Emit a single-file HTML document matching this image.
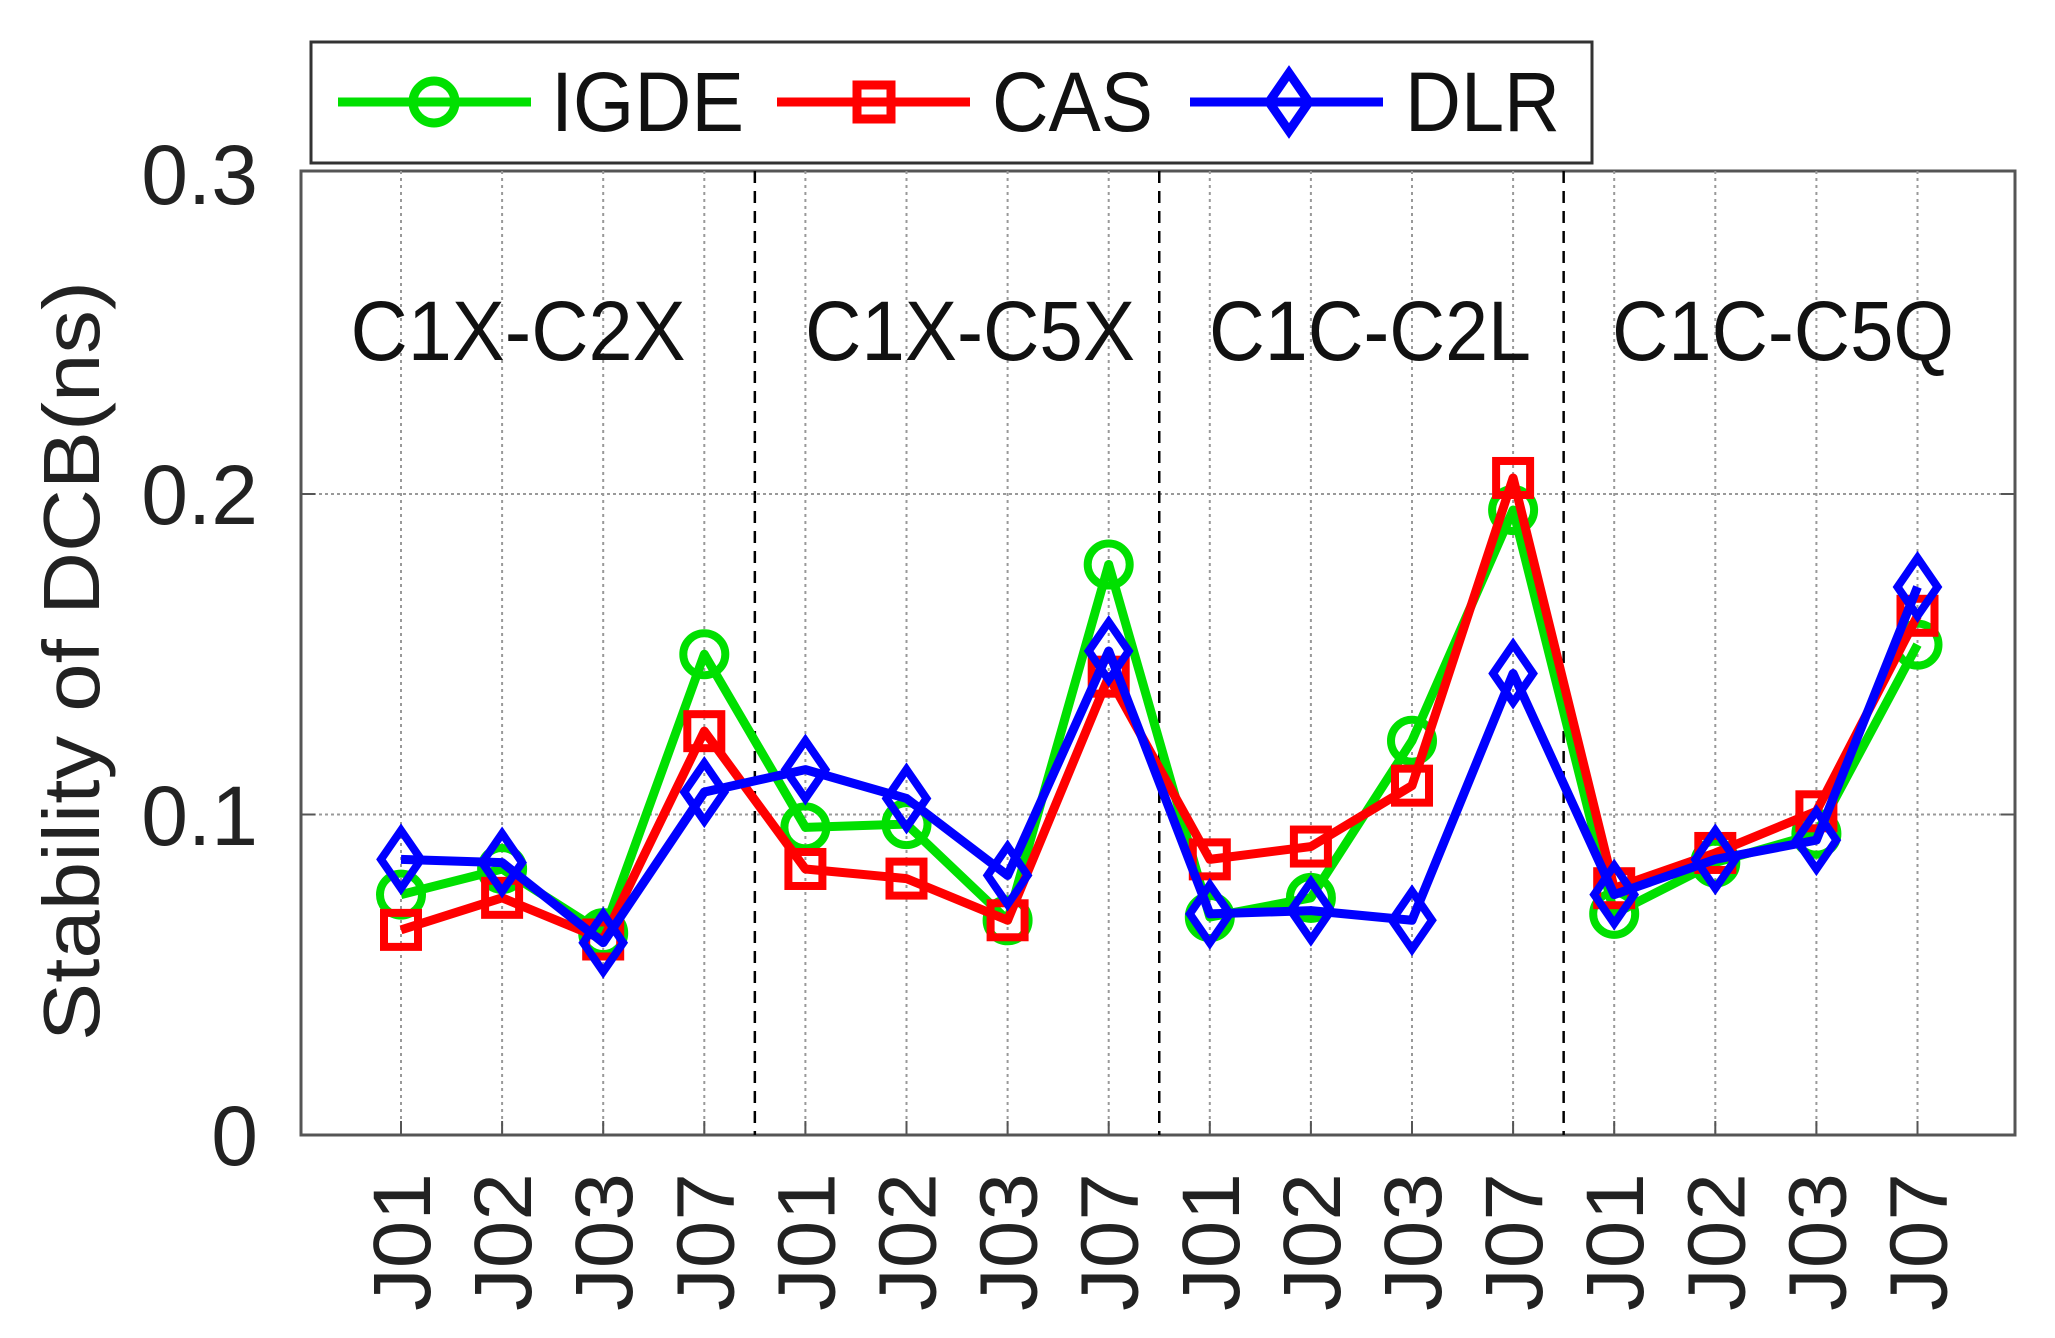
<!DOCTYPE html>
<html><head><meta charset="utf-8"><style>html,body{margin:0;padding:0;background:#fff;}svg{display:block}</style></head>
<body>
<svg id="s" width="2055" height="1338" viewBox="0 0 2055 1338" xmlns="http://www.w3.org/2000/svg" font-family="Liberation Sans, Arial, sans-serif">
<rect x="0" y="0" width="2055" height="1338" fill="#fff"/>
<rect x="301" y="171" width="1714" height="964" fill="#fff" stroke="#555" stroke-width="3"/>
<g id="grid"></g>
<g id="series"></g>
<g font-size="84" fill="#222" text-anchor="end">
<text x="258" y="1165">0</text>
<text x="258" y="845">0.1</text>
<text x="258" y="524">0.2</text>
<text x="258" y="204">0.3</text>
</g>
<text transform="translate(99,661) rotate(-90)" font-size="80" fill="#222" text-anchor="middle" textLength="760" lengthAdjust="spacingAndGlyphs">Stability of DCB(ns)</text>
<g font-size="84" fill="#111" text-anchor="middle">
<text x="518" y="360" textLength="335" lengthAdjust="spacingAndGlyphs">C1X-C2X</text>
<text x="970" y="360" textLength="330" lengthAdjust="spacingAndGlyphs">C1X-C5X</text>
<text x="1370" y="360" textLength="322" lengthAdjust="spacingAndGlyphs">C1C-C2L</text>
<text x="1783" y="360" textLength="342" lengthAdjust="spacingAndGlyphs">C1C-C5Q</text>
</g>
<g id="xl" font-size="82" fill="#222"></g>
<rect x="311" y="42" width="1281" height="121" fill="#fff" stroke="#333" stroke-width="3"/>
<g stroke-width="9" fill="none">
<line x1="338" y1="102" x2="531" y2="102" stroke="#00e000"/>
<circle cx="434" cy="102" r="21" stroke="#00e000"/>
<line x1="777" y1="102" x2="970" y2="102" stroke="#f00"/>
<rect x="857" y="85" width="34" height="34" stroke="#f00"/>
<line x1="1190" y1="102" x2="1383" y2="102" stroke="#00f"/>
<polygon points="1289,73 1309,102 1289,131 1269,102" stroke="#00f"/>
</g>
<g font-size="84" fill="#111">
<text x="551" y="131" textLength="193" lengthAdjust="spacingAndGlyphs">IGDE</text>
<text x="992" y="131" textLength="161" lengthAdjust="spacingAndGlyphs">CAS</text>
<text x="1405" y="131" textLength="155" lengthAdjust="spacingAndGlyphs">DLR</text>
</g>
</svg>
<script>
var NS="http://www.w3.org/2000/svg";
function el(p,t,a){var e=document.createElementNS(NS,t);for(var k in a)e.setAttribute(k,a[k]);p.appendChild(e);return e;}
var g=document.getElementById('grid'),s=document.getElementById('series'),xl=document.getElementById('xl');
function X(i){return 401+i*101.1;}
function Y(v){return 1135-v*3205;}
[0.1,0.2].forEach(function(v){el(g,'line',{x1:301,x2:2015,y1:Y(v),y2:Y(v),stroke:'#999','stroke-width':2,'stroke-dasharray':'3,3'});
el(g,'line',{x1:301,x2:315,y1:Y(v),y2:Y(v),stroke:'#555','stroke-width':2});el(g,'line',{x1:2001,x2:2015,y1:Y(v),y2:Y(v),stroke:'#555','stroke-width':2});});
var labs=['J01','J02','J03','J07'];
for(var i=0;i<16;i++){el(g,'line',{x1:X(i),x2:X(i),y1:171,y2:1135,stroke:'#999','stroke-width':2,'stroke-dasharray':'3,4'});
el(g,'line',{x1:X(i),x2:X(i),y1:1121,y2:1135,stroke:'#555','stroke-width':2});
var t=el(xl,'text',{transform:'translate('+(X(i)+29)+',1173) rotate(-90)','text-anchor':'end',textLength:138,lengthAdjust:'spacingAndGlyphs'});t.textContent=labs[i%4];}
[3.5,7.5,11.5].forEach(function(k){el(g,'line',{x1:X(k),x2:X(k),y1:171,y2:1135,stroke:'#000','stroke-width':2.5,'stroke-dasharray':'12,8'});});
var D={
'#00e000':[0.075,0.083,0.063,0.150,0.096,0.097,0.067,0.178,0.068,0.074,0.123,0.195,0.069,0.085,0.094,0.153],
'#f00':[0.064,0.074,0.061,0.126,0.083,0.080,0.067,0.143,0.086,0.090,0.109,0.205,0.077,0.088,0.101,0.162],
'#00f':[0.086,0.085,0.060,0.107,0.114,0.105,0.081,0.151,0.069,0.070,0.067,0.144,0.075,0.086,0.092,0.171]};
var m=0;
for(var c in D){var d=D[c],pts=d.map(function(v,i){return X(i)+','+Y(v);}).join(' ');
el(s,'polyline',{points:pts,fill:'none',stroke:c,'stroke-width':9,'stroke-linejoin':'round'});
d.forEach(function(v,i){var x=X(i),y=Y(v);
if(m==0)el(s,'circle',{cx:x,cy:y,r:21,fill:'none',stroke:c,'stroke-width':8});
else if(m==1)el(s,'rect',{x:x-17,y:y-17,width:34,height:34,fill:'none',stroke:c,'stroke-width':8});
else el(s,'polygon',{points:x+','+(y-29)+' '+(x+20)+','+y+' '+x+','+(y+29)+' '+(x-20)+','+y,fill:'none',stroke:c,'stroke-width':8});});
m++;}
</script>
</body></html>
